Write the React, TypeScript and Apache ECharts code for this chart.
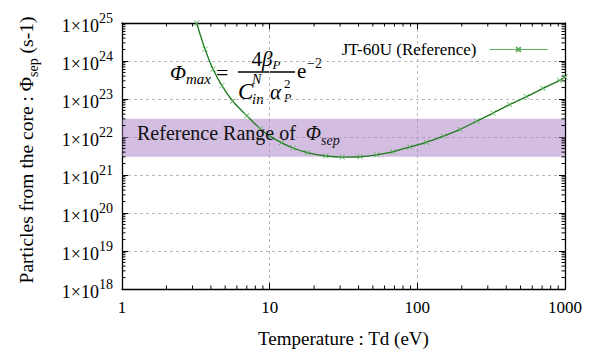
import React, { useEffect, useRef } from 'react';
import * as echarts from 'echarts';

// ---- data ----
const temperatureEV = [3.2, 3.65, 4.13, 4.75, 5.63, 7.0, 8.6, 10, 12, 14.4, 18, 24, 31, 41, 53, 68, 89, 115, 150, 195, 253, 326, 421, 548, 710, 919, 1000];
const phiSep = [1.0e25, 2.04e24, 6.17e23, 2.24e23, 8.71e22, 3.63e22, 1.66e22, 1.07e22, 7.08e21, 5.13e21, 3.89e21, 3.16e21, 2.95e21, 3.02e21, 3.39e21, 4.07e21, 5.5e21, 7.24e21, 1.05e22, 1.58e22, 2.63e22, 4.27e22, 7.08e22, 1.15e23, 1.91e23, 3.09e23, 3.8e23];
const referenceRange = [3e21, 3e22];
const seriesName = 'JT-60U (Reference)';
const xRange = [1, 1000];
const yRange = [1e18, 1e25];
const xDecades = [1, 10, 100];
const yDecades = [1e18, 1e19, 1e20, 1e21, 1e22, 1e23, 1e24];
const minorMultipliers = [2, 3, 4, 5, 6, 7, 8, 9];

const SERIF = 'Liberation Serif, serif';
const GREEN_LINE = '#1c7a1c';
const GREEN_MARK = '#5cae5c';

const xMinor: number[] = [];
xDecades.forEach((d) => minorMultipliers.forEach((m) => xMinor.push(d * m)));
const yMinor: number[] = [];
yDecades.forEach((d) => minorMultipliers.forEach((m) => yMinor.push(d * m)));

export default function App() {
  const ref = useRef<HTMLDivElement>(null);
  useEffect(() => {
    if (!ref.current) return;
    const chart = echarts.init(ref.current, undefined, { renderer: 'svg' });

    const axisCommon = {
      axisLine: { show: true, lineStyle: { color: '#000', width: 1.3 } },
      axisTick: { show: true, inside: true, length: 6, lineStyle: { color: '#000', width: 1 } },
    };

    const mathItalic = { fontFamily: SERIF, fontStyle: 'italic', fill: '#000' };

    const option: any = {
      animation: false,
      backgroundColor: '#fff',
      textStyle: { fontFamily: SERIF },
      grid: { left: 122, right: 49, top: 23, bottom: 58 },
      legend: {
        data: [seriesName],
        right: 61,
        top: 36,
        align: 'right',
        itemWidth: 58,
        itemHeight: 6,
        lineStyle: { width: 1, color: GREEN_MARK },
        textStyle: { fontFamily: SERIF, fontSize: 17, color: '#000', padding: [0, 8, 0, 0] },
      },
      xAxis: [
        {
          type: 'log',
          logBase: 10,
          min: xRange[0],
          max: xRange[1],
          ...axisCommon,
          axisLabel: { fontFamily: SERIF, fontSize: 17, color: '#000', margin: 10, formatter: (v: number) => String(Math.round(v)) },
          splitLine: { show: true, lineStyle: { color: '#b8b8b8', type: [3, 3], width: 1 } },
          name: 'Temperature : Td (eV)',
          nameLocation: 'middle',
          nameGap: 40,
          nameTextStyle: { fontFamily: SERIF, fontSize: 19, color: '#000' },
        },
        {
          type: 'log',
          logBase: 10,
          min: xRange[0],
          max: xRange[1],
          position: 'top',
          ...axisCommon,
          axisLabel: { show: false },
          splitLine: { show: false },
        },
      ],
      yAxis: [
        {
          type: 'log',
          logBase: 10,
          min: yRange[0],
          max: yRange[1],
          ...axisCommon,
          axisLabel: {
            margin: 9,
            formatter: (v: number) => `{b|1×10}{s|${Math.round(Math.log10(v))}}`,
            rich: {
              b: { fontFamily: SERIF, fontSize: 18, color: '#000', lineHeight: 24, verticalAlign: 'bottom' },
              s: { fontFamily: SERIF, fontSize: 14, color: '#000', verticalAlign: 'top' },
            },
          },
          splitLine: { show: true, lineStyle: { color: '#b8b8b8', type: [3, 3], width: 1 } },
        },
        {
          type: 'log',
          logBase: 10,
          min: yRange[0],
          max: yRange[1],
          position: 'right',
          ...axisCommon,
          axisLabel: { show: false },
          splitLine: { show: false },
        },
      ],
      series: [
        {
          name: seriesName,
          type: 'line',
          xAxisIndex: 0,
          yAxisIndex: 0,
          data: temperatureEV.map((t, i) => [t, phiSep[i]]),
          smooth: 0.3,
          clip: true,
          symbol: 'path://M0,0L10,10M10,0L0,10',
          symbolSize: 5,
          showSymbol: true,
          lineStyle: { color: GREEN_LINE, width: 1.3 },
          itemStyle: { color: GREEN_MARK, borderColor: GREEN_MARK, borderWidth: 1 },
          markArea: {
            silent: true,
            itemStyle: { color: 'rgba(168, 126, 196, 0.5)' },
            data: [[{ yAxis: referenceRange[0] }, { yAxis: referenceRange[1] }]],
          },
          z: 3,
        },
        {
          type: 'custom',
          silent: true,
          clip: false,
          xAxisIndex: 0,
          yAxisIndex: 0,
          data: xMinor.map((v) => [v, yRange[0]]),
          encode: { x: 0, y: 1 },
          renderItem: (_p: any, api: any) => {
            const v = api.value(0);
            const b = api.coord([v, yRange[0]]);
            const t = api.coord([v, yRange[1]]);
            return {
              type: 'group',
              children: [
                { type: 'line', shape: { x1: b[0], y1: b[1], x2: b[0], y2: b[1] - 3.5 }, style: { stroke: '#000', lineWidth: 1 } },
                { type: 'line', shape: { x1: t[0], y1: t[1], x2: t[0], y2: t[1] + 3.5 }, style: { stroke: '#000', lineWidth: 1 } },
              ],
            };
          },
        },
        {
          type: 'custom',
          silent: true,
          clip: false,
          xAxisIndex: 0,
          yAxisIndex: 0,
          data: yMinor.map((v) => [xRange[0], v]),
          encode: { x: 0, y: 1 },
          renderItem: (_p: any, api: any) => {
            const v = api.value(1);
            const l = api.coord([xRange[0], v]);
            const r = api.coord([xRange[1], v]);
            return {
              type: 'group',
              children: [
                { type: 'line', shape: { x1: l[0], y1: l[1], x2: l[0] + 3.5, y2: l[1] }, style: { stroke: '#000', lineWidth: 1 } },
                { type: 'line', shape: { x1: r[0], y1: r[1], x2: r[0] - 3.5, y2: r[1] }, style: { stroke: '#000', lineWidth: 1 } },
              ],
            };
          },
        },
      ],
      graphic: [
        {
          type: 'text',
          x: 26,
          y: 150,
          rotation: Math.PI / 2,
          style: {
            text: '{a|Particles from the core : Φ}{s|sep}{a| (s-1)}',
            align: 'center',
            verticalAlign: 'middle',
            rich: {
              a: { fontFamily: SERIF, fontSize: 19.5, fill: '#000', lineHeight: 28 },
              s: { fontFamily: SERIF, fontSize: 14, fill: '#000', verticalAlign: 'bottom' },
            },
          },
        },
        {
          type: 'text',
          x: 137,
          y: 133,
          z: 10,
          style: {
            text: '{a|Reference Range of  }{i|Φ}{s|sep}',
            verticalAlign: 'middle',
            rich: {
              a: { fontFamily: SERIF, fontSize: 20, fill: '#111', lineHeight: 28 },
              i: { fontFamily: SERIF, fontStyle: 'italic', fontSize: 20, fill: '#111' },
              s: { fontFamily: SERIF, fontStyle: 'italic', fontSize: 14, fill: '#111', verticalAlign: 'bottom' },
            },
          },
        },
        // formula: Φmax = 4βP / (C_in^N α_P^2) e^-2
        {
          type: 'group',
          z: 10,
          children: [
            {
              type: 'text', x: 170, y: 73,
              style: {
                text: '{i|Φ}{s|max}', verticalAlign: 'middle',
                rich: {
                  i: { ...mathItalic, fontSize: 21, lineHeight: 26 },
                  s: { ...mathItalic, fontSize: 15, verticalAlign: 'bottom' },
                },
              },
            },
            { type: 'text', x: 216, y: 72, style: { text: '=', fontFamily: SERIF, fontSize: 22, fill: '#000', verticalAlign: 'middle' } },
            { type: 'rect', shape: { x: 238, y: 71.3, width: 57, height: 1.4 }, style: { fill: '#000' } },
            {
              type: 'text', x: 266, y: 59,
              style: {
                text: '{n|4}{i|β}{s|P}', align: 'center', verticalAlign: 'middle',
                rich: {
                  n: { fontFamily: SERIF, fontSize: 21, fill: '#000', lineHeight: 24 },
                  i: { ...mathItalic, fontSize: 21 },
                  s: { ...mathItalic, fontSize: 13, verticalAlign: 'bottom' },
                },
              },
            },
            { type: 'text', x: 238, y: 91, style: { text: 'C', ...mathItalic, fontSize: 23, verticalAlign: 'middle' } },
            { type: 'text', x: 252, y: 79, style: { text: 'N', ...mathItalic, fontSize: 14, verticalAlign: 'middle' } },
            { type: 'text', x: 252, y: 99, style: { text: 'in', ...mathItalic, fontSize: 15, verticalAlign: 'middle' } },
            { type: 'text', x: 270, y: 92, style: { text: 'α', ...mathItalic, fontSize: 21, verticalAlign: 'middle' } },
            { type: 'text', x: 284, y: 83, style: { text: '2', fontFamily: SERIF, fontSize: 13, fill: '#000', verticalAlign: 'middle' } },
            { type: 'text', x: 284, y: 98, style: { text: 'P', ...mathItalic, fontSize: 12, verticalAlign: 'middle' } },
            { type: 'text', x: 297, y: 71, style: { text: 'e', fontFamily: SERIF, fontSize: 21, fill: '#000', verticalAlign: 'middle' } },
            { type: 'text', x: 307, y: 63, style: { text: '−2', fontFamily: SERIF, fontSize: 14, fill: '#000', verticalAlign: 'middle' } },
          ],
        },
      ],
    };

    chart.setOption(option);
    return () => chart.dispose();
  }, []);

  return <div ref={ref} style={{ width: 614, height: 353, position: 'absolute', left: 0, top: 0 }} />;
}
